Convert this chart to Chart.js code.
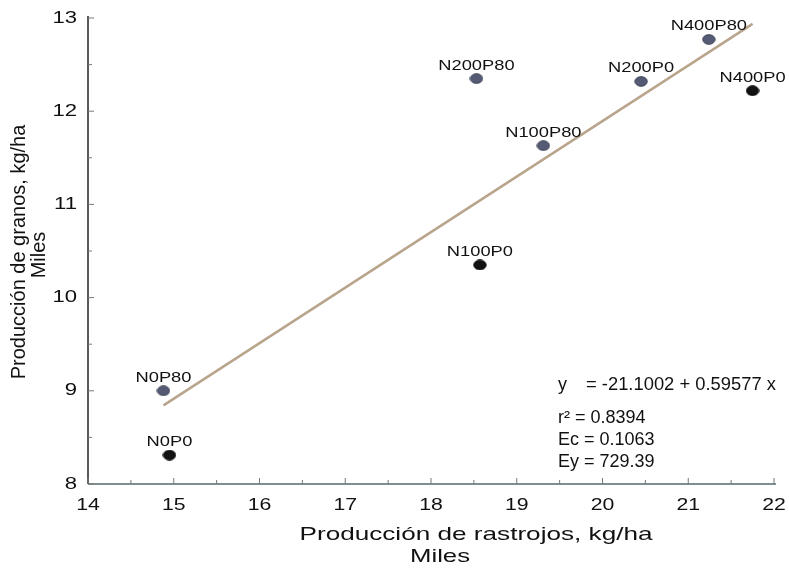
<!DOCTYPE html>
<html>
<head>
<meta charset="utf-8">
<script src="https://cdn.jsdelivr.net/npm/chart.js@4/dist/chart.umd.min.js"></script>
<style>
  body { margin: 0; background: #fff; }
  #wrap { width: 789px; height: 568px; }
</style>
</head>
<body>
<div id="wrap"><canvas id="myChart" width="789" height="568"></canvas></div>
<script>
// Data (thousands of kg/ha)
const treatments = ["N0P0", "N0P80", "N100P0", "N100P80", "N200P0", "N200P80", "N400P0", "N400P80"];
const stubble = [14.95, 14.88, 18.57, 19.31, 20.45, 18.53, 21.75, 21.24];
const grain = [8.31, 9.0, 10.35, 11.63, 12.32, 12.35, 12.22, 12.77];
const dark = [true, false, true, false, false, false, true, false];

// Regression line from the printed equation
const intercept = -21.1002;
const slope = 0.59577;
const fitX = [14.88, 21.75];

const equationLines = ["r\u00b2 = 0.8394", "Ec = 0.1063", "Ey = 729.39"];
const xTicks = [14, 15, 16, 17, 18, 19, 20, 21, 22];
const yTicks = [8, 9, 10, 11, 12, 13];

const FONT = "'Liberation Sans', Arial, sans-serif";

const points = stubble.map((x, i) => ({ x: x, y: grain[i] }));
const fitLine = fitX.map(x => ({ x: x, y: (intercept + slope * x * 1000) / 1000 }));

// slightly flattened dots like the scanned figure
function dot(fill, edge) {
    const c = document.createElement("canvas");
    c.width = 14;
    c.height = 11;
    const g = c.getContext("2d");
    g.fillStyle = fill;
    g.strokeStyle = edge;
    g.beginPath();
    g.ellipse(7, 5.5, 6.2, 4.8, 0, 0, Math.PI * 2);
    g.fill();
    g.stroke();
    return c;
}
const blueDot = dot("#555b74", "#3e4358");
const blackDot = dot("#121212", "#000");

// text squeezed/stretched horizontally to match the scan
function wideText(ctx, text, x, y, sx, align) {
    ctx.save();
    ctx.translate(x, y);
    ctx.scale(sx, 1);
    ctx.textAlign = align;
    ctx.fillText(text, 0, 0);
    ctx.restore();
}

const decorations = {
    id: "decorations",
    afterDraw(chart) {
        const ctx = chart.ctx;
        const xs = chart.scales.x;
        const ys = chart.scales.y;
        const area = chart.chartArea;
        ctx.save();

        // axis lines
        ctx.lineWidth = 1.5;
        ctx.strokeStyle = "#222";
        ctx.beginPath();
        ctx.moveTo(area.left, area.top - 2);
        ctx.lineTo(area.left, area.bottom);
        ctx.stroke();
        ctx.strokeStyle = "#55696a";
        ctx.beginPath();
        ctx.moveTo(area.left, area.bottom);
        ctx.lineTo(area.right + 2, area.bottom);
        ctx.stroke();

        // ticks pointing into the plot, minor ones at halves
        ctx.lineWidth = 1;
        ctx.strokeStyle = "#777";
        for (let v = 14; v <= 22; v += 0.5) {
            const px = xs.getPixelForValue(v);
            const len = Number.isInteger(v) ? 6 : 4;
            ctx.beginPath();
            ctx.moveTo(px, area.bottom);
            ctx.lineTo(px, area.bottom - len);
            ctx.stroke();
        }
        for (let v = 8; v <= 13; v += 0.5) {
            const py = ys.getPixelForValue(v);
            const len = Number.isInteger(v) ? 6 : 4;
            ctx.beginPath();
            ctx.moveTo(area.left, py);
            ctx.lineTo(area.left + len, py);
            ctx.stroke();
        }

        // tick labels
        ctx.fillStyle = "#111";
        ctx.font = "17px " + FONT;
        ctx.textBaseline = "middle";
        xTicks.forEach(v => wideText(ctx, String(v), xs.getPixelForValue(v), 505, 1.25, "center"));
        yTicks.forEach(v => wideText(ctx, String(v), 77, ys.getPixelForValue(v), 1.3, "right"));

        // point labels
        ctx.font = "15px " + FONT;
        ctx.textBaseline = "alphabetic";
        treatments.forEach((name, i) => {
            const px = xs.getPixelForValue(stubble[i]);
            const py = ys.getPixelForValue(grain[i]);
            wideText(ctx, name, px, py - 9, 1.22, "center");
        });

        // equation block
        ctx.textBaseline = "middle";
        ctx.font = "18px " + FONT;
        wideText(ctx, "y", 558, 385, 1, "left");
        wideText(ctx, "= -21.1002 + 0.59577 x", 586, 385, 1.02, "left");
        equationLines.forEach((t, i) => wideText(ctx, t, 558, 418 + i * 22, 1, "left"));

        // x title
        ctx.font = "19px " + FONT;
        const xTitle = "Producción de rastrojos, kg/ha";
        const sx = 353 / ctx.measureText(xTitle).width;
        wideText(ctx, xTitle, 476, 535, sx, "center");
        wideText(ctx, "Miles", 440, 557, 60 / ctx.measureText("Miles").width, "center");

        // y title
        ctx.font = "20px " + FONT;
        ctx.textAlign = "center";
        ctx.save();
        ctx.translate(19, 252);
        ctx.rotate(-Math.PI / 2);
        ctx.fillText("Producción de granos, kg/ha", 0, 0);
        ctx.restore();
        ctx.save();
        ctx.translate(39, 255);
        ctx.rotate(-Math.PI / 2);
        ctx.fillText("Miles", 0, 0);
        ctx.restore();

        ctx.restore();
    }
};

const ctx = document.getElementById("myChart").getContext("2d");
const myChart = new Chart(ctx, {
    type: "scatter",
    data: {
        datasets: [{
            label: "Ajuste",
            type: "line",
            data: fitLine,
            borderColor: "#b9a48c",
            borderWidth: 2.5,
            pointRadius: 0,
            fill: false
        }, {
            label: "Tratamientos",
            data: points,
            pointStyle: dark.map(d => d ? blackDot : blueDot)
        }]
    },
    options: {
        responsive: false,
        animation: false,
        layout: { padding: { top: 18, right: 15, left: 0, bottom: 0 } },
        plugins: {
            legend: { display: false },
            tooltip: { enabled: false }
        },
        scales: {
            x: {
                type: "linear",
                min: 14,
                max: 22,
                afterBuildTicks: s => { s.ticks = xTicks.map(v => ({ value: v })); },
                ticks: { display: false },
                grid: { display: false },
                border: { display: false },
                afterFit: s => { s.height = 84; }
            },
            y: {
                type: "linear",
                min: 8,
                max: 13,
                afterBuildTicks: s => { s.ticks = yTicks.map(v => ({ value: v })); },
                ticks: { display: false },
                grid: { display: false },
                border: { display: false },
                afterFit: s => { s.width = 88; }
            }
        }
    },
    plugins: [decorations]
});
</script>
</body>
</html>
